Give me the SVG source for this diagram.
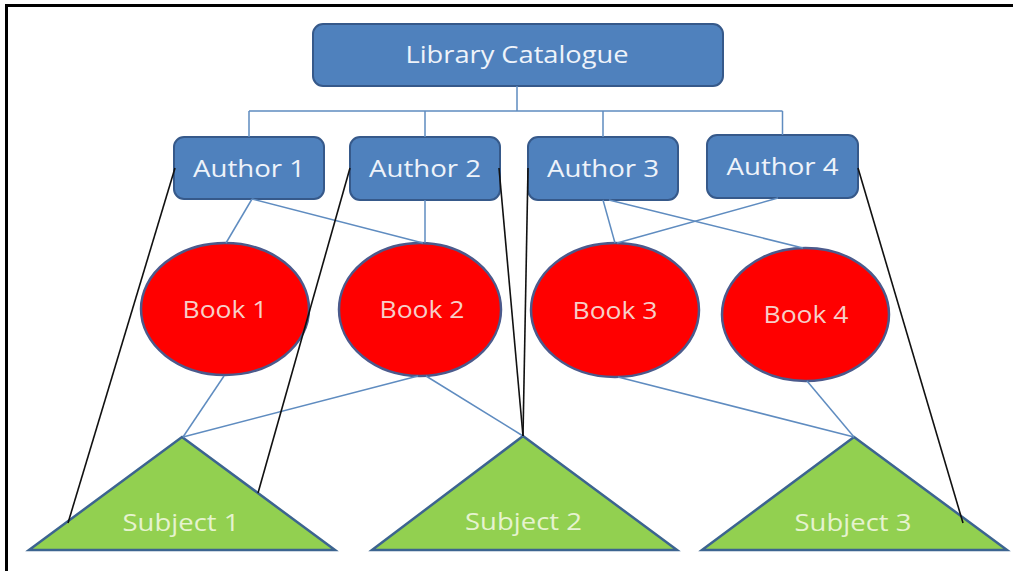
<svg xmlns="http://www.w3.org/2000/svg" width="1013" height="571" viewBox="0 0 1013 571">
  <style>
    .box { fill: #4f81bd; stroke: #36598a; stroke-width: 2; }
    .book { fill: #ff0000; stroke: #4b5a8c; stroke-width: 2.5; }
    .subject { fill: #92d050; stroke: #3c6490; stroke-width: 2.5; stroke-linejoin: miter; }
    .lbl { font-family: "Open Sans", "Liberation Sans", sans-serif; text-anchor: middle; }
    .lbl-box { fill: #eef3fa; font-size: 24px; }
    .lbl-book { fill: #f7cfc8; font-size: 23.5px; }
    .lbl-subj { fill: #e6f3cf; font-size: 23.5px; }
    .link { stroke: #5f8cc0; stroke-width: 1.5; fill: none; }
    .cross { stroke: #111111; stroke-width: 1.6; fill: none; }
    .frame { stroke: #000000; stroke-width: 3; fill: none; }
  </style>

  <rect width="1013" height="571" fill="#ffffff"/>

  <!-- outer frame: top and left edges only -->
  <g id="frame">
    <line class="frame" x1="5" y1="5.5" x2="1013" y2="5.5"/>
    <line class="frame" x1="6.5" y1="4" x2="6.5" y2="571"/>
  </g>

  <!-- root -->
  <g id="catalogue">
    <rect class="box" x="313" y="24" width="410" height="62" rx="10"/>
    <text class="lbl lbl-box" x="517" y="63" textLength="223" lengthAdjust="spacingAndGlyphs">Library Catalogue</text>
  </g>

  <!-- authors -->
  <g id="author1">
    <rect class="box" x="174" y="137" width="150" height="62" rx="10"/>
    <text class="lbl lbl-box" x="249" y="177" textLength="112" lengthAdjust="spacingAndGlyphs">Author 1</text>
  </g>
  <g id="author2">
    <rect class="box" x="350" y="137" width="150" height="63" rx="10"/>
    <text class="lbl lbl-box" x="425" y="177" textLength="112" lengthAdjust="spacingAndGlyphs">Author 2</text>
  </g>
  <g id="author3">
    <rect class="box" x="528" y="137" width="150" height="63" rx="10"/>
    <text class="lbl lbl-box" x="603" y="177" textLength="112" lengthAdjust="spacingAndGlyphs">Author 3</text>
  </g>
  <g id="author4">
    <rect class="box" x="707" y="135" width="151" height="63" rx="10"/>
    <text class="lbl lbl-box" x="782.5" y="175" textLength="112" lengthAdjust="spacingAndGlyphs">Author 4</text>
  </g>

  <!-- books -->
  <g id="book1">
    <ellipse class="book" cx="225" cy="309" rx="84" ry="66"/>
    <text class="lbl lbl-book" x="225" y="318" textLength="85" lengthAdjust="spacingAndGlyphs">Book 1</text>
  </g>
  <g id="book2">
    <ellipse class="book" cx="420" cy="309.5" rx="81" ry="66.5"/>
    <text class="lbl lbl-book" x="422" y="318" textLength="85" lengthAdjust="spacingAndGlyphs">Book 2</text>
  </g>
  <g id="book3">
    <ellipse class="book" cx="615" cy="310" rx="84" ry="67"/>
    <text class="lbl lbl-book" x="615" y="319" textLength="85" lengthAdjust="spacingAndGlyphs">Book 3</text>
  </g>
  <g id="book4">
    <ellipse class="book" cx="805.5" cy="314.5" rx="83.5" ry="66.5"/>
    <text class="lbl lbl-book" x="806" y="323" textLength="85" lengthAdjust="spacingAndGlyphs">Book 4</text>
  </g>

  <!-- subjects -->
  <g id="subject1">
    <polygon class="subject" points="182,437 335,550 29,550"/>
    <text class="lbl lbl-subj" x="181" y="531" textLength="117" lengthAdjust="spacingAndGlyphs">Subject 1</text>
  </g>
  <g id="subject2">
    <polygon class="subject" points="523,436 677,550 372,550"/>
    <text class="lbl lbl-subj" x="523.5" y="530" textLength="117" lengthAdjust="spacingAndGlyphs">Subject 2</text>
  </g>
  <g id="subject3">
    <polygon class="subject" points="854,437 1007,550 702,550"/>
    <text class="lbl lbl-subj" x="853" y="531" textLength="117" lengthAdjust="spacingAndGlyphs">Subject 3</text>
  </g>

  <!-- connectors -->
  <g id="connectors">
    <!-- catalogue tree -->
    <path class="link" d="M517,86 V111 M249,111 H782.5 M249,111 V137 M425,111 V137 M603,111 V137 M782.5,111 V135"/>
    <!-- author to book -->
    <line class="link" x1="252" y1="199" x2="226" y2="243"/>
    <line class="link" x1="252" y1="199" x2="423" y2="243"/>
    <line class="link" x1="425" y1="200" x2="425" y2="243"/>
    <line class="link" x1="603" y1="200" x2="615" y2="243"/>
    <line class="link" x1="609" y1="200" x2="803" y2="248"/>
    <line class="link" x1="778" y1="198" x2="617" y2="243"/>
    <!-- book to subject -->
    <line class="link" x1="224" y1="376" x2="183" y2="437"/>
    <line class="link" x1="418" y1="376" x2="183" y2="437"/>
    <line class="link" x1="426" y1="376" x2="523" y2="436"/>
    <line class="link" x1="618" y1="377" x2="854" y2="437"/>
    <line class="link" x1="807" y1="381" x2="854" y2="437"/>
    <!-- author to subject -->
    <line class="cross" x1="175" y1="168" x2="68" y2="523"/>
    <line class="cross" x1="350" y1="168" x2="258" y2="493"/>
    <line class="cross" x1="499" y1="168" x2="523" y2="436"/>
    <line class="cross" x1="528" y1="168" x2="523" y2="436"/>
    <line class="cross" x1="858" y1="168" x2="963" y2="523"/>
  </g>
</svg>
